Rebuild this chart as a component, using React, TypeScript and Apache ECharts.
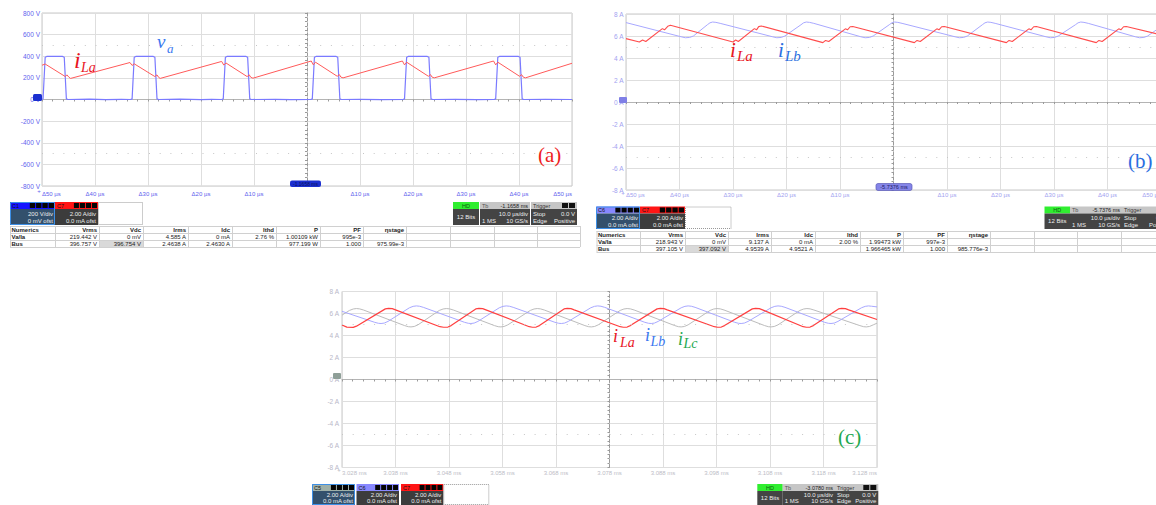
import React, { useEffect, useRef } from "react";
import * as echarts from "echarts";

type Pt = [number, number];

// ---------- panel (a): time in µs relative to trigger ----------
const vaA: Pt[] = [
  [-50, 0], [-49.8, 6], [-49.4, 390], [-49.1, 398], [-46.1, 398], [-45.8, 390], [-45.4, 6], [-45.1, 0],
  [-41, 3], [-38, -2], [-35, 2],
  [-33.3, 0], [-33.0, 6], [-32.6, 390], [-32.3, 398], [-29.0, 398], [-28.7, 390], [-28.3, 6], [-28.0, 0],
  [-24, 3], [-20, -2], [-18, 2],
  [-16.1, 0], [-15.8, 6], [-15.4, 390], [-15.1, 398], [-11.5, 398], [-11.2, 390], [-10.8, 6], [-10.5, 0],
  [-6, 2], [-3, -2],
  [0.7, 0], [1.0, 6], [1.4, 390], [1.7, 398], [5.5, 398], [5.8, 390], [6.2, 6], [6.5, 0],
  [10, 2], [14, -2],
  [18.1, 0], [18.4, 6], [18.8, 390], [19.1, 398], [22.7, 398], [23.0, 390], [23.4, 6], [23.7, 0],
  [28, 2], [32, -2],
  [35.3, 0], [35.6, 6], [36.0, 390], [36.3, 398], [39.9, 398], [40.2, 390], [40.6, 6], [40.9, 0],
  [45, 2], [50, 0],
];
const iLaA: Pt[] = [
  [-50, 317], [-49.4, 328], [-45.6, 212], [-45.3, 228], [-44.9, 205], [-44.6, 195],
  [-33.4, 342], [-33.0, 315], [-32.6, 330], [-28.7, 212], [-28.3, 228], [-28.0, 205], [-27.7, 195],
  [-16.1, 352], [-15.7, 318], [-15.3, 338], [-11.3, 212], [-10.9, 228], [-10.6, 205], [-10.2, 197],
  [0.8, 356], [1.2, 320], [1.6, 345], [5.7, 215], [6.1, 230], [6.4, 207], [6.8, 200],
  [18.0, 356], [18.4, 320], [18.8, 345], [22.9, 215], [23.3, 230], [23.6, 207], [24.0, 200],
  [35.2, 356], [35.6, 320], [36.0, 345], [40.1, 215], [40.5, 230], [40.8, 207], [41.2, 200],
  [50, 335],
];

// ---------- panel (b) ----------
const iLaB: Pt[] = [
  [-50, 5.76], [-47.5, 5.45], [-46.9, 5.64], [-46.3, 5.5], [-43.2, 6.67], [-42.8, 6.56], [-42.2, 6.88], [-41.7, 6.97],
  [-30.0, 5.45], [-29.5, 5.64], [-29.0, 5.5], [-26.0, 6.67], [-25.6, 6.56], [-25.2, 6.85], [-24.7, 6.91],
  [-13.2, 5.4], [-12.7, 5.6], [-12.1, 5.5], [-9.0, 6.65], [-8.6, 6.56], [-8.1, 6.84], [-7.6, 6.87],
  [3.9, 5.4], [4.4, 5.6], [5.0, 5.5], [8.1, 6.65], [8.5, 6.56], [9.0, 6.84], [9.5, 6.87],
  [21.1, 5.4], [21.6, 5.6], [22.2, 5.5], [25.3, 6.65], [25.7, 6.56], [26.2, 6.84], [26.7, 6.87],
  [37.9, 5.4], [38.4, 5.6], [39.0, 5.5], [42.1, 6.65], [42.5, 6.56], [43.0, 6.84], [43.5, 6.87],
  [50, 6.1],
];
const iLbB: Pt[] = [
  [-50, 7.22],
  [-39.7, 5.93], [-38.9, 5.84], [-38.1, 5.87], [-37.4, 6.0], [-34.8, 7.02], [-34.3, 7.2], [-33.8, 7.27], [-33.2, 7.24], [-32.4, 7.15],
  [-22.6, 5.93], [-21.8, 5.84], [-21.0, 5.87], [-20.3, 6.0], [-17.3, 7.02], [-16.8, 7.2], [-16.3, 7.27], [-15.7, 7.24], [-14.9, 7.15],
  [-6.1, 5.93], [-5.3, 5.84], [-4.5, 5.87], [-3.8, 6.0], [-0.8, 7.02], [-0.3, 7.2], [0.2, 7.27], [0.8, 7.24], [1.6, 7.15],
  [11.5, 5.93], [12.3, 5.84], [13.1, 5.87], [13.8, 6.0], [16.6, 7.02], [17.1, 7.2], [17.6, 7.27], [18.2, 7.24], [19.0, 7.15],
  [28.5, 5.93], [29.3, 5.84], [30.1, 5.87], [30.8, 6.0], [34.0, 7.02], [34.5, 7.2], [35.0, 7.27], [35.6, 7.24], [36.4, 7.15],
  [45.2, 5.93], [46.0, 5.84], [46.8, 5.87], [47.5, 6.0], [50, 6.85],
];

// ---------- panel (c): µs relative to 3.078 ms ----------
const iLaC: Pt[] = [
  [-50, 4.95], [-49.1, 4.76], [-47.9, 4.74], [-47.3, 4.85],
  [-41.9, 6.42], [-41.3, 6.47], [-40.6, 6.44], [-40.0, 6.33],
  [-31.7, 4.8], [-31.0, 4.75], [-30.2, 4.77], [-29.6, 4.9],
  [-25.0, 6.42], [-24.4, 6.47], [-23.7, 6.44], [-23.1, 6.33],
  [-15.0, 4.8], [-14.4, 4.75], [-13.7, 4.77], [-13.1, 4.9],
  [-8.5, 6.42], [-7.9, 6.47], [-7.2, 6.44], [-6.6, 6.33],
  [2.0, 4.8], [2.6, 4.75], [3.3, 4.77], [3.9, 4.9],
  [8.9, 6.42], [9.5, 6.47], [10.2, 6.44], [10.8, 6.33],
  [19.6, 4.8], [20.2, 4.75], [20.9, 4.77], [21.5, 4.9],
  [26.7, 6.42], [27.3, 6.47], [28.0, 6.44], [28.6, 6.33],
  [36.2, 4.8], [36.8, 4.75], [37.5, 4.77], [38.1, 4.9],
  [42.8, 6.42], [43.4, 6.47], [44.1, 6.44], [44.7, 6.33],
  [50, 5.45],
];
const iLbC: Pt[] = [
  [-50, 6.2],
  [-43.9, 5.2], [-43.2, 5.11], [-42.7, 5.09], [-42.1, 5.13], [-41.4, 5.28],
  [-37.4, 6.52], [-36.7, 6.65], [-36.1, 6.69], [-35.5, 6.66], [-34.8, 6.56],
  [-27.1, 5.2], [-26.4, 5.11], [-25.9, 5.09], [-25.3, 5.13], [-24.6, 5.28],
  [-20.6, 6.52], [-19.9, 6.65], [-19.3, 6.69], [-18.7, 6.66], [-18.0, 6.56],
  [-10.2, 5.2], [-9.5, 5.11], [-9.0, 5.09], [-8.4, 5.13], [-7.7, 5.28],
  [-3.5, 6.52], [-2.8, 6.65], [-2.2, 6.69], [-1.6, 6.66], [-0.9, 6.56],
  [6.6, 5.2], [7.3, 5.11], [7.8, 5.09], [8.4, 5.13], [9.1, 5.28],
  [13.4, 6.52], [14.1, 6.65], [14.7, 6.69], [15.3, 6.66], [16.0, 6.56],
  [23.4, 5.2], [24.1, 5.11], [24.6, 5.09], [25.2, 5.13], [25.9, 5.28],
  [30.2, 6.52], [30.9, 6.65], [31.5, 6.69], [32.1, 6.66], [32.8, 6.56],
  [40.2, 5.2], [40.9, 5.11], [41.4, 5.09], [42.0, 5.13], [42.7, 5.28],
  [47.1, 6.52], [47.8, 6.65], [48.4, 6.69], [49.0, 6.66], [50, 6.6],
];
const iLcC: Pt[] = [
  [-50, 5.85],
  [-48.6, 6.28], [-47.9, 6.41], [-47.3, 6.45], [-46.7, 6.42], [-46.0, 6.32],
  [-38.3, 4.9], [-37.6, 4.8], [-37.1, 4.78], [-36.5, 4.82], [-35.8, 4.97],
  [-31.8, 6.28], [-31.1, 6.41], [-30.5, 6.45], [-29.9, 6.42], [-29.2, 6.32],
  [-21.5, 4.9], [-20.8, 4.8], [-20.3, 4.78], [-19.7, 4.82], [-19.0, 4.97],
  [-14.8, 6.28], [-14.1, 6.41], [-13.5, 6.45], [-12.9, 6.42], [-12.2, 6.32],
  [-4.6, 4.9], [-3.9, 4.8], [-3.4, 4.78], [-2.8, 4.82], [-2.1, 4.97],
  [2.0, 6.28], [2.7, 6.41], [3.3, 6.45], [3.9, 6.42], [4.6, 6.32],
  [12.2, 4.9], [12.9, 4.8], [13.4, 4.78], [14.0, 4.82], [14.7, 4.97],
  [18.8, 6.28], [19.5, 6.41], [20.1, 6.45], [20.7, 6.42], [21.4, 6.32],
  [29.0, 4.9], [29.7, 4.8], [30.2, 4.78], [30.8, 4.82], [31.5, 4.97],
  [35.6, 6.28], [36.3, 6.41], [36.9, 6.45], [37.5, 6.42], [38.2, 6.32],
  [46.8, 4.9], [47.5, 4.8], [48.0, 4.78], [48.6, 4.82], [49.3, 4.97], [50, 5.12],
];

// ---------- numerics tables ----------
const numHeader = ["Numerics", "Vrms", "Vdc", "Irms", "Idc", "Ithd", "P", "PF", "ηstage"];
const numRowsA = [
  ["Va/Ia", "219.442 V", "0 mV", "4.585 A", "0 mA", "2.76 %", "1.00109 kW", "995e-3", ""],
  ["Bus", "396.757 V", "396.754 V", "2.4638 A", "2.4630 A", "", "977.199 W", "1.000", "975.99e-3"],
];
const numRowsB = [
  ["Va/Ia", "218.943 V", "0 mV", "9.137 A", "0 mA", "2.00 %", "1.99473 kW", "997e-3", ""],
  ["Bus", "397.105 V", "397.092 V", "4.9539 A", "4.9521 A", "", "1.966465 kW", "1.000", "985.776e-3"],
];
const timebaseA = "-1.1658 ms";
const timebaseB = "-5.7376 ms";
const timebaseC = "-3.0780 ms";

// ---------- layout ----------
const colEdgesA = [10, 55, 99, 143, 188, 232, 276, 320, 363, 406, 450, 494, 537, 580];
const colEdgesB = [596.5, 640, 685, 728, 771, 815, 860, 903, 947, 990, 1034, 1077, 1121, 1165];

const SANS = '"Liberation Sans", Arial, sans-serif';
const SERIF = '"Liberation Serif", "Times New Roman", serif';

const R = (x: number, y: number, w: number, h: number, fill: string, o: any = {}) => ({
  type: "rect", silent: true, z: o.z ?? 10,
  shape: { x, y, width: w, height: h, r: o.r || 0 },
  style: { fill, stroke: o.stroke || null, lineWidth: o.lw || 0, lineDash: o.dash || null },
});
const T = (x: number, y: number, text: string, size: number, fill: string, align = "left", weight = "normal") => ({
  type: "text", silent: true, x, y, z: 11,
  style: { text, fill, font: `${weight} ${size}px ${SANS}`, align, verticalAlign: "middle" },
});
const L = (x1: number, y1: number, x2: number, y2: number, stroke: string) => ({
  type: "line", silent: true, z: 10, shape: { x1, y1, x2, y2 }, style: { stroke, lineWidth: 1 },
});
const S = (x: number, y: number, text: string, size: number, fill: string, italic = true) => ({
  type: "text", silent: true, x, y, z: 12,
  style: { text, fill, font: `${italic ? "italic " : ""}${size}px ${SERIF}`, align: "left", verticalAlign: "middle" },
});

function chanBox(x: number, y: number, w: number, h: number, head: string, label: string, l1: string, l2: string, sel: boolean) {
  const hh = 7;
  const bh = h - hh;
  const out: any[] = [R(x, y, w, hh, head), T(x + 2, y + hh / 2 + 0.3, label, 5.5, "#151515")];
  const bx0 = x + w * 0.44;
  const bw = (x + w - 1 - bx0 - 3) / 4;
  for (let i = 0; i < 4; i++) out.push(R(bx0 + i * (bw + 1), y + 1, bw, hh - 2, "#050505"));
  out.push(R(x, y + hh, w, bh, sel ? "#33506c" : "#3c3c3c"));
  out.push(T(x + w - 2, y + hh + bh * 0.3, l1, 6, "#eeeeee", "right"));
  out.push(T(x + w - 2, y + hh + bh * 0.74, l2, 6, "#eeeeee", "right"));
  if (sel) out.push(R(x + 0.5, y + 0.5, w - 1, h - 1, "none", { stroke: "#3d8fe6", lw: 1, z: 12 }));
  return out;
}
function dotBox(x: number, y: number, w: number, h: number) {
  return [R(x + 0.5, y + 0.5, w - 1, h - 1, "none", { stroke: "#999999", lw: 1, dash: [1, 1] })];
}
function hdBox(x: number, y: number, w: number, h: number) {
  const hh = 7;
  return [
    R(x, y, w, hh, "#30ee30"), T(x + w / 2, y + hh / 2, "HD", 5.5, "#0d5a0d", "center"),
    R(x, y + hh, w, h - hh, "#444444"), T(x + w / 2, y + hh + (h - hh) / 2, "12 Bits", 6, "#eeeeee", "center"),
  ];
}
function tbBox(x: number, y: number, w: number, h: number, tb: string) {
  const hh = 7, bh = h - hh;
  return [
    R(x, y, w, hh, "#c6c6c6"), T(x + 2, y + hh / 2, "Tb", 5.5, "#555555"), T(x + w - 2, y + hh / 2, tb, 5.5, "#222222", "right"),
    R(x, y + hh, w, bh, "#444444"),
    T(x + w - 2, y + hh + bh * 0.3, "10.0 µs/div", 6, "#eeeeee", "right"),
    T(x + 2, y + hh + bh * 0.74, "1 MS", 6, "#eeeeee"),
    T(x + w - 2, y + hh + bh * 0.74, "10 GS/s", 6, "#eeeeee", "right"),
  ];
}
function trigBox(x: number, y: number, w: number, h: number) {
  const hh = 7, bh = h - hh;
  return [
    R(x, y, w, hh, "#c6c6c6"), T(x + 2, y + hh / 2, "Trigger", 5.5, "#333333"),
    R(x + w - 15, y + 1, 6, hh - 2, "#111111"), R(x + w - 8, y + 1, 6, hh - 2, "#111111"),
    R(x, y + hh, w, bh, "#444444"),
    T(x + 2, y + hh + bh * 0.3, "Stop", 6, "#eeeeee"), T(x + w - 2, y + hh + bh * 0.3, "0.0 V", 6, "#eeeeee", "right"),
    T(x + 2, y + hh + bh * 0.74, "Edge", 6, "#eeeeee"), T(x + w - 2, y + hh + bh * 0.74, "Positive", 6, "#eeeeee", "right"),
  ];
}
function table(edges: number[], y0: number, rows: string[][]) {
  const rh = 7;
  const x0 = edges[0], x1 = edges[edges.length - 1];
  const out: any[] = [R(edges[2], y0 + 2 * rh, edges[3] - edges[2], rh, "#d9d9d9", { z: 9 })];
  for (let r = 0; r <= 3; r++) out.push(L(x0, y0 + r * rh + 0.5, x1, y0 + r * rh + 0.5, "#d0d0d0"));
  edges.forEach((e) => out.push(L(e + 0.5, y0, e + 0.5, y0 + 3 * rh, "#d0d0d0")));
  rows.forEach((row, r) =>
    row.forEach((cell, c) => {
      if (!cell) return;
      const bold = r === 0 || c === 0;
      out.push(T(c === 0 ? edges[0] + 1.5 : edges[c + 1] - 2, y0 + r * rh + rh / 2 + 0.5, cell, 6, "#222222", c === 0 ? "left" : "right", bold ? "bold" : "normal"));
    })
  );
  return out;
}

const fmtDelta = (v: number) => (v === 0 ? "" : `Δ${Math.abs(v)} µs`);
const fmtMs = (v: number) => `${(3.078 + v / 1000).toFixed(3)} ms`;
const fmtV = (v: number) => `${v} V`;
const fmtA = (v: number) => `${v} A`;

function axesFor(g: number, xFmt: any, xColor: string, xMargin: number, yMin: number, yMax: number, yInt: number, yFmt: any, yColor: string, yMargin: number) {
  const xs = [
    {
      gridIndex: g, type: "value", min: -50, max: 50, interval: 10,
      axisLine: { show: false, onZero: false }, axisTick: { show: false },
      axisLabel: { fontSize: 6, fontFamily: SANS, color: xColor, margin: xMargin, formatter: xFmt, alignMinLabel: "left", alignMaxLabel: "right", showMinLabel: true, showMaxLabel: true, hideOverlap: false },
      splitLine: { show: true, lineStyle: { color: "#dedede", width: 1 } },
    },
    {
      gridIndex: g, type: "value", min: -50, max: 50, interval: 10, position: "bottom",
      axisLine: { show: true, onZero: true, onZeroAxisIndex: 2 * g, lineStyle: { color: "#b4b4b4", width: 1 } },
      axisTick: { show: true, length: 2, lineStyle: { color: "#9a9a9a" } },
      minorTick: { show: true, splitNumber: 5, length: 2, lineStyle: { color: "#9a9a9a" } },
      axisLabel: { show: false }, splitLine: { show: false },
    },
  ];
  const ys = [
    {
      gridIndex: g, type: "value", min: yMin, max: yMax, interval: yInt, position: "left",
      axisLine: { show: false, onZero: false }, axisTick: { show: false },
      axisLabel: { fontSize: 6.5, fontFamily: SANS, color: yColor, margin: yMargin, formatter: yFmt },
      splitLine: { show: true, lineStyle: { color: "#dedede", width: 1 } },
    },
    {
      gridIndex: g, type: "value", min: yMin, max: yMax, interval: yInt, position: "left",
      axisLine: { show: true, onZero: true, onZeroAxisIndex: 2 * g, lineStyle: { color: "#9a9a9a", type: [3, 2], width: 1 } },
      axisTick: { show: true, length: 2, lineStyle: { color: "#9a9a9a" } },
      minorTick: { show: true, splitNumber: 5, length: 2, lineStyle: { color: "#9a9a9a" } },
      axisLabel: { show: false }, splitLine: { show: false },
    },
  ];
  return { xs, ys };
}

function lineSeries(name: string, data: Pt[], g: number, color: string, width: number, dots?: number) {
  const s: any = {
    name, type: "line", data, xAxisIndex: 2 * g, yAxisIndex: 2 * g,
    showSymbol: false, symbol: "none", silent: true, animation: false,
    lineStyle: { color, width }, itemStyle: { color }, emphasis: { disabled: true },
  };
  if (dots != null) {
    s.markLine = {
      silent: true, symbol: "none", animation: false, label: { show: false },
      lineStyle: { color: "#c6c6c6", type: [1, 9.7], width: 1 },
      data: [{ yAxis: dots }, { yAxis: -dots }],
    };
  }
  return s;
}

export default function App() {
  const ref = useRef<HTMLDivElement>(null);
  useEffect(() => {
    if (!ref.current) return;
    const chart = echarts.init(ref.current, null, { renderer: "svg", width: 1156, height: 505 });
    const a = axesFor(0, fmtDelta, "#6262ee", 5, -800, 800, 200, fmtV, "#6262ee", 2);
    const b = axesFor(1, fmtDelta, "#a2a2f0", 2, -8, 8, 2, fmtA, "#a2a2f0", 2.5);
    const c = axesFor(2, fmtMs, "#bdbdc6", 2.5, -8, 8, 2, fmtA, "#b8b8c8", 3);
    const gridBase = { show: true, borderColor: "#c8c8c8", borderWidth: 1, backgroundColor: "transparent", containLabel: false, outerBoundsMode: "none" };

    const graphics: any[] = [
      // annotations (a)
      S(74, 60, "i", 24, "#e8141e"), S(81, 67.5, "La", 14, "#e8141e"),
      S(157, 41, "v", 19, "#3a78f0"), S(167, 48.5, "a", 13, "#3a78f0"),
      S(538, 155, "(a)", 21, "#ee1c1c", false),
      // annotations (b)
      S(730, 50, "i", 21, "#e8141e"), S(737, 55.5, "La", 15, "#e8141e"),
      S(778, 50, "i", 21, "#2a6ee0"), S(785, 55.5, "Lb", 15, "#2a6ee0"),
      S(1128, 160.5, "(b)", 21, "#2a6ee0", false),
      // annotations (c)
      S(613, 336, "i", 18, "#e8141e"), S(620, 342, "La", 14, "#e8141e"),
      S(645, 335, "i", 18, "#3a78f0"), S(650.5, 341.5, "Lb", 14, "#3a78f0"),
      S(678, 339, "i", 18, "#1ea84f"), S(683.5, 343.5, "Lc", 14, "#1ea84f"),
      S(838, 437, "(c)", 21, "#1ea84f", false),
      // markers
      R(33, 94, 9, 7, "#1b2fd0", { r: 1.5 }),
      R(290, 180.5, 31, 6.5, "#1b2fd0", { r: 2 }), T(305.5, 184, timebaseA, 5, "#08125a", "center"),
      T(39, 191, "+", 6, "#6262ee", "center"),
      R(619, 97, 8, 6, "#7f7fe6", { r: 1 }),
      R(876, 183.5, 36, 7, "#8585e8", { r: 2, stroke: "#5a5ab8", lw: 0.7 }), T(894, 187, timebaseB, 5.5, "#20206a", "center"),
      T(623, 193, "+", 6, "#a2a2f0", "center"),
      R(333, 373, 8, 6, "#8f9f98", { r: 1 }),
      T(339, 470, "+", 6, "#bdbdc6", "center"),
      // status (a)
      ...chanBox(10, 202, 45, 23, "#1515ff", "C1", "200 V/div", "0 mV ofst", true),
      ...chanBox(55, 202, 43, 23, "#ff1515", "C7", "2.00 A/div", "0.0 mA ofst", false),
      ...dotBox(98, 202, 45, 23),
      ...hdBox(453, 202, 26, 23), ...tbBox(480, 202, 50, 23, timebaseA), ...trigBox(531, 202, 46, 23),
      ...table(colEdgesA, 226, [numHeader, ...numRowsA]),
      // status (b)
      ...chanBox(596, 206.5, 44, 22.5, "#8888ff", "C6", "2.00 A/div", "0.0 mA ofst", true),
      ...chanBox(640, 206.5, 45, 22.5, "#ff1515", "C7", "2.00 A/div", "0.0 mA ofst", false),
      ...dotBox(685, 206.5, 46.5, 22.5),
      ...hdBox(1044.5, 206.5, 25.5, 22.5), ...tbBox(1070, 206.5, 52, 22.5, timebaseB), ...trigBox(1122, 206.5, 50, 22.5),
      ...table(colEdgesB, 231, [numHeader, ...numRowsB]),
      // status (c)
      ...chanBox(312, 484, 43, 21, "#9fb0a8", "C5", "2.00 A/div", "0.0 mA ofst", true),
      ...chanBox(356.5, 484, 42.5, 21, "#8888ff", "C6", "2.00 A/div", "0.0 mA ofst", false),
      ...chanBox(401, 484, 42.3, 21, "#ff1515", "C7", "2.00 A/div", "0.0 mA ofst", false),
      ...dotBox(443.3, 484, 46, 21),
      ...hdBox(757.3, 484, 25.4, 21), ...tbBox(782.7, 484, 52.3, 21, timebaseC), ...trigBox(835, 484, 43.3, 21),
    ];

    chart.setOption({
      animation: false,
      backgroundColor: "#ffffff",
      grid: [
        { ...gridBase, left: 42, top: 13, width: 530, height: 173 },
        { ...gridBase, left: 626, top: 14, width: 535, height: 176 },
        { ...gridBase, left: 342, top: 291.5, width: 535, height: 176 },
      ],
      xAxis: [...a.xs, ...b.xs, ...c.xs],
      yAxis: [...a.ys, ...b.ys, ...c.ys],
      series: [
        lineSeries("va", vaA, 0, "#7a7aff", 1.2, 500),
        lineSeries("iLa (a)", iLaA, 0, "#ff5a5a", 1),
        lineSeries("iLb (b)", iLbB, 1, "#a8a8ff", 1, 5),
        lineSeries("iLa (b)", iLaB, 1, "#ff4d4d", 1.1),
        lineSeries("iLc (c)", iLcC, 2, "#bcbcbc", 1, 5),
        lineSeries("iLb (c)", iLbC, 2, "#a8a8ff", 1),
        lineSeries("iLa (c)", iLaC, 2, "#ff4040", 1.2),
      ],
      graphic: graphics,
    });
    return () => chart.dispose();
  }, []);
  return <div ref={ref} style={{ position: "absolute", left: 0, top: 0, width: 1156, height: 505, overflow: "hidden" }} />;
}
